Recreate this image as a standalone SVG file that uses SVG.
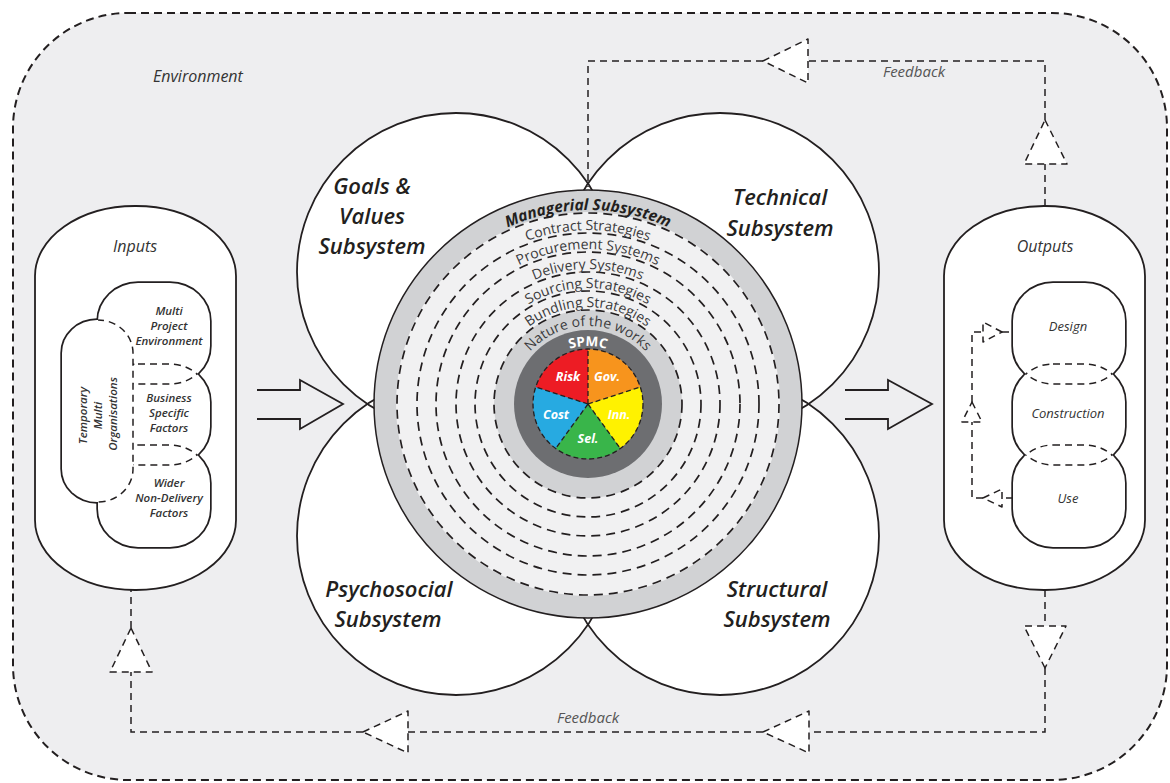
<svg xmlns="http://www.w3.org/2000/svg" xmlns:xlink="http://www.w3.org/1999/xlink" width="1170" height="783" viewBox="0 0 1170 783">
  <style>
    .env { fill: #eeeef0; stroke: #231f20; stroke-width: 2; stroke-dasharray: 8 5; }
    .lobeFill { fill: #ffffff; }
    .lobeLine { fill: none; stroke: #231f20; stroke-width: 1.8; }
    .box { fill: #ffffff; stroke: #231f20; stroke-width: 1.8; }
    .edgeK { fill: #ffffff; stroke: #231f20; stroke-width: 3.4; }
    .fillW { fill: #ffffff; stroke: none; }
    .dashS { fill: none; stroke: #231f20; stroke-width: 1.5; stroke-dasharray: 7 5; }
    .ringDash { fill: none; stroke: #231f20; stroke-width: 1.7; stroke-dasharray: 9 6; }
    .pieDash { fill: none; stroke: #231f20; stroke-width: 1.3; stroke-dasharray: 5 3; }
    .fb { fill: none; stroke: #231f20; stroke-width: 1.5; stroke-dasharray: 7 5; }
    .tri { fill: #ffffff; stroke: #231f20; stroke-width: 1.5; stroke-dasharray: 7 5; stroke-linejoin: round; }
    .arrow { fill: none; stroke: #231f20; stroke-width: 1.8; stroke-linejoin: miter; }
    .sub { font-family: "Open Sans", "Noto Sans", sans-serif; font-style: italic; font-weight: 600; font-size: 22px; fill: #231f20; text-anchor: middle; }
    .ring { font-family: "Open Sans", "Noto Sans", sans-serif; font-size: 14px; fill: #3a3a3c; }
    .mgr { font-family: "Open Sans", "Noto Sans", sans-serif; font-size: 15.5px; font-weight: 700; font-style: italic; fill: #231f20; }
    .lbl { font-family: "Open Sans", "Noto Sans", sans-serif; font-size: 16px; font-style: italic; fill: #333333; }
    .fbl { font-family: "Open Sans", "Noto Sans", sans-serif; font-size: 15px; font-style: italic; fill: #555555; text-anchor: middle; }
    .small { font-family: "Open Sans", "Noto Sans", sans-serif; font-size: 11.5px; font-style: italic; font-weight: 600; fill: #333333; text-anchor: middle; }
    .out { font-family: "Open Sans", "Noto Sans", sans-serif; font-size: 13px; font-style: italic; fill: #333333; text-anchor: middle; }
    .pieT { font-family: "Open Sans", "Noto Sans", sans-serif; font-size: 12.5px; font-style: italic; font-weight: 700; fill: #ffffff; text-anchor: middle; }
    .spmc { font-family: "Open Sans", "Noto Sans", sans-serif; font-size: 13.5px; font-weight: 700; fill: #ffffff; }
  </style>

  <defs>
    <!-- arcs used as baselines for the curved ring labels (centre 588,404) -->
    <path id="arcMgr" d="M394,404 A194,194 0 0 1 782,404"/>
    <path id="arcContract" d="M414,404 A174,174 0 0 1 762,404"/>
    <path id="arcProc" d="M433,404 A155,155 0 0 1 743,404"/>
    <path id="arcDeliv" d="M453,404 A135,135 0 0 1 723,404"/>
    <path id="arcSourc" d="M472,404 A116,116 0 0 1 704,404"/>
    <path id="arcBundl" d="M491,404 A97,97 0 0 1 685,404"/>
    <path id="arcNature" d="M510,404 A78,78 0 0 1 666,404"/>
    <path id="arcSpmc" d="M530,404 A58,58 0 0 1 646,404"/>

    <!-- input cluster shapes -->
    <rect id="iT" x="62" y="320" width="71" height="182" rx="35" ry="33"/>
    <rect id="iM" x="98" y="283" width="112" height="101" rx="40" ry="38"/>
    <rect id="iB" x="98" y="364" width="112" height="101" rx="40" ry="38"/>
    <rect id="iW" x="98" y="445" width="112" height="102" rx="40" ry="38"/>

    <!-- output cluster shapes -->
    <rect id="oD" x="1013" y="283" width="112" height="101" rx="40" ry="38"/>
    <rect id="oC" x="1013" y="364" width="112" height="101" rx="40" ry="38"/>
    <rect id="oU" x="1013" y="445" width="112" height="102" rx="40" ry="38"/>

    <clipPath id="cpInRight"><use xlink:href="#iM"/><use xlink:href="#iB"/><use xlink:href="#iW"/></clipPath>
    <clipPath id="cpIM"><use xlink:href="#iM"/></clipPath>
    <clipPath id="cpIB"><use xlink:href="#iB"/></clipPath>
    <clipPath id="cpIW"><use xlink:href="#iW"/></clipPath>
    <clipPath id="cpHalf"><rect x="133" y="0" width="120" height="783"/></clipPath>
    <clipPath id="cpOD"><use xlink:href="#oD"/></clipPath>
    <clipPath id="cpOC"><use xlink:href="#oC"/></clipPath>
    <clipPath id="cpOU"><use xlink:href="#oU"/></clipPath>
  </defs>

  <!-- environment boundary -->
  <g id="environment">
    <rect class="env" x="13" y="13" width="1154" height="767" rx="115" ry="115"/>
    <text class="lbl" x="153" y="82" font-size="16.5">Environment</text>
  </g>

  <!-- four subsystem lobes -->
  <g id="lobes">
    <circle class="lobeFill" cx="456" cy="272" r="159"/>
    <circle class="lobeFill" cx="720" cy="272" r="159"/>
    <circle class="lobeFill" cx="456" cy="536" r="159"/>
    <circle class="lobeFill" cx="720" cy="536" r="159"/>
    <circle class="lobeLine" cx="456" cy="272" r="159"/>
    <circle class="lobeLine" cx="720" cy="272" r="159"/>
    <circle class="lobeLine" cx="456" cy="536" r="159"/>
    <circle class="lobeLine" cx="720" cy="536" r="159"/>
  </g>

  <g id="goals-values">
    <text class="sub" x="372" y="194">Goals &amp;</text>
    <text class="sub" x="372" y="224">Values</text>
    <text class="sub" x="372" y="254">Subsystem</text>
  </g>
  <g id="technical">
    <text class="sub" x="780" y="205">Technical</text>
    <text class="sub" x="780" y="236">Subsystem</text>
  </g>
  <g id="psychosocial">
    <text class="sub" x="389" y="597">Psychosocial</text>
    <text class="sub" x="388" y="627">Subsystem</text>
  </g>
  <g id="structural">
    <text class="sub" x="777" y="597">Structural</text>
    <text class="sub" x="777" y="627">Subsystem</text>
  </g>

  <!-- managerial subsystem rings and SPMC core -->
  <g id="managerial">
    <circle cx="588" cy="404" r="214" fill="#d1d2d4" stroke="#231f20" stroke-width="1.5"/>
    <circle cx="588" cy="404" r="192" fill="#f1f1f2"/>
    <circle cx="588" cy="404" r="94" fill="#d1d2d4"/>
    <circle cx="588" cy="404" r="74" fill="#6d6e71"/>
    <circle class="ringDash" cx="588" cy="404" r="191"/>
    <circle class="ringDash" cx="588" cy="404" r="171"/>
    <circle class="ringDash" cx="588" cy="404" r="152"/>
    <circle class="ringDash" cx="588" cy="404" r="132"/>
    <circle class="ringDash" cx="588" cy="404" r="113"/>
    <circle class="ringDash" cx="588" cy="404" r="94"/>

    <text class="mgr"><textPath xlink:href="#arcMgr" startOffset="50%" text-anchor="middle">Managerial Subsystem</textPath></text>
    <text class="ring" font-size="14.5"><textPath xlink:href="#arcContract" startOffset="50%" text-anchor="middle">Contract Strategies</textPath></text>
    <text class="ring"><textPath xlink:href="#arcProc" startOffset="50%" text-anchor="middle">Procurement Systems</textPath></text>
    <text class="ring"><textPath xlink:href="#arcDeliv" startOffset="50%" text-anchor="middle">Delivery Systems</textPath></text>
    <text class="ring"><textPath xlink:href="#arcSourc" startOffset="50%" text-anchor="middle">Sourcing Strategies</textPath></text>
    <text class="ring" font-size="13.5"><textPath xlink:href="#arcBundl" startOffset="50%" text-anchor="middle">Bundling Strategies</textPath></text>
    <text class="ring" font-size="13.5"><textPath xlink:href="#arcNature" startOffset="50%" text-anchor="middle">Nature of the works</textPath></text>
  </g>

  <g id="spmc">
    <text class="spmc"><textPath xlink:href="#arcSpmc" startOffset="50%" text-anchor="middle">SPMC</textPath></text>
    <!-- five equal sectors starting at 12 o'clock -->
    <path d="M588,404 L588,349 A55,55 0 0 1 640.3,387 Z" fill="#f7941d"/>
    <path d="M588,404 L640.3,387 A55,55 0 0 1 620.3,448.5 Z" fill="#fff200"/>
    <path d="M588,404 L620.3,448.5 A55,55 0 0 1 555.7,448.5 Z" fill="#39b54a"/>
    <path d="M588,404 L555.7,448.5 A55,55 0 0 1 535.7,387 Z" fill="#27aae1"/>
    <path d="M588,404 L535.7,387 A55,55 0 0 1 588,349 Z" fill="#ed1c24"/>
    <circle class="pieDash" cx="588" cy="404" r="55"/>
    <path class="pieDash" d="M588,404 L588,349 M588,404 L640.3,387 M588,404 L620.3,448.5 M588,404 L555.7,448.5 M588,404 L535.7,387"/>
    <text class="pieT" x="568" y="381">Risk</text>
    <text class="pieT" x="607" y="381">Gov.</text>
    <text class="pieT" x="619" y="419">Inn.</text>
    <text class="pieT" x="588" y="443">Sel.</text>
    <text class="pieT" x="556" y="419">Cost</text>
  </g>

  <!-- inputs box -->
  <g id="inputs">
    <rect class="box" x="35" y="206" width="201" height="384" rx="100" ry="70"/>
    <text class="lbl" x="135" y="252" text-anchor="middle">Inputs</text>
    <use xlink:href="#iT" class="edgeK"/>
    <use xlink:href="#iM" class="edgeK"/>
    <use xlink:href="#iB" class="edgeK"/>
    <use xlink:href="#iW" class="edgeK"/>
    <use xlink:href="#iT" class="fillW"/>
    <use xlink:href="#iM" class="fillW"/>
    <use xlink:href="#iB" class="fillW"/>
    <use xlink:href="#iW" class="fillW"/>
    <use xlink:href="#iT" class="dashS" clip-path="url(#cpInRight)"/>
    <g clip-path="url(#cpHalf)">
      <use xlink:href="#iM" class="dashS" clip-path="url(#cpIB)"/>
      <use xlink:href="#iB" class="dashS" clip-path="url(#cpIM)"/>
      <use xlink:href="#iB" class="dashS" clip-path="url(#cpIW)"/>
      <use xlink:href="#iW" class="dashS" clip-path="url(#cpIB)"/>
    </g>
    <text class="small" transform="translate(0,414) rotate(-90)">
      <tspan x="0" y="87">Temporary</tspan>
      <tspan x="0" y="102">Multi</tspan>
      <tspan x="0" y="117">Organisations</tspan>
    </text>
    <text class="small"><tspan x="169" y="315">Multi</tspan><tspan x="169" y="330">Project</tspan><tspan x="169" y="345">Environment</tspan></text>
    <text class="small"><tspan x="169" y="402">Business</tspan><tspan x="169" y="417">Specific</tspan><tspan x="169" y="432">Factors</tspan></text>
    <text class="small"><tspan x="169" y="487">Wider</tspan><tspan x="169" y="502">Non-Delivery</tspan><tspan x="169" y="517">Factors</tspan></text>
  </g>

  <!-- outputs box -->
  <g id="outputs">
    <rect class="box" x="944" y="206" width="201" height="384" rx="100" ry="70"/>
    <text class="lbl" x="1045" y="252" text-anchor="middle">Outputs</text>
    <use xlink:href="#oD" class="edgeK"/>
    <use xlink:href="#oC" class="edgeK"/>
    <use xlink:href="#oU" class="edgeK"/>
    <use xlink:href="#oD" class="fillW"/>
    <use xlink:href="#oC" class="fillW"/>
    <use xlink:href="#oU" class="fillW"/>
    <use xlink:href="#oD" class="dashS" clip-path="url(#cpOC)"/>
    <use xlink:href="#oC" class="dashS" clip-path="url(#cpOD)"/>
    <use xlink:href="#oC" class="dashS" clip-path="url(#cpOU)"/>
    <use xlink:href="#oU" class="dashS" clip-path="url(#cpOC)"/>
    <text class="out" x="1068" y="331">Design</text>
    <text class="out" x="1068" y="418">Construction</text>
    <text class="out" x="1068" y="503">Use</text>
  </g>

  <!-- connectors: flow arrows and feedback loops -->
  <g id="connectors">
    <path class="arrow" d="M257,390 H300 V380 L343,404 L300,429 V419 H257"/>
    <path class="arrow" d="M845,390 H888 V380 L932,404 L888,429 V419 H845"/>

    <!-- internal feedback inside outputs: Use back to Design -->
    <path class="fb" d="M1013,498 H1002 M983,498 H972 V422 M972,402 V332 H983 M1002,332 H1013"/>
    <path class="tri" d="M983,498 L1002,489 L1002,507 Z"/>
    <path class="tri" d="M972,402 L982,422 L962,422 Z"/>
    <path class="tri" d="M1002,332 L983,322 L983,342 Z"/>

    <!-- upper feedback loop -->
    <path class="fb" d="M1045,206 V164 M1045,120 V61 H808 M763,61 H588 V187"/>
    <path class="tri" d="M1045,120 L1067,164 L1024,164 Z"/>
    <path class="tri" d="M763,61 L808,39 L808,83 Z"/>
    <text class="fbl" x="914" y="77">Feedback</text>

    <!-- lower feedback loop -->
    <path class="fb" d="M1045,590 V626 M1045,668 V732 H809 M763,732 H408 M363,732 H131 V672 M131,628 V590"/>
    <path class="tri" d="M1045,668 L1024,626 L1066,626 Z"/>
    <path class="tri" d="M763,732 L809,711 L809,753 Z"/>
    <path class="tri" d="M363,732 L408,711 L408,753 Z"/>
    <path class="tri" d="M131,628 L152,672 L110,672 Z"/>
    <text class="fbl" x="588" y="723" font-size="14.5">Feedback</text>
  </g>
</svg>
